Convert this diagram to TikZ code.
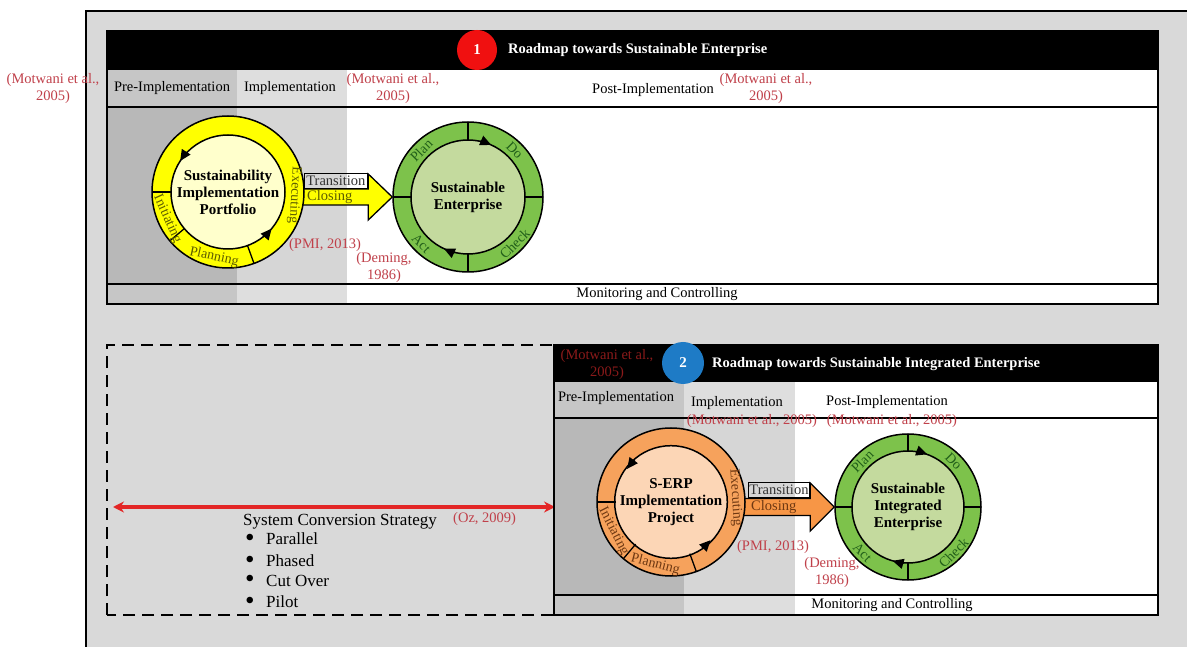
\documentclass[tikz,border=0pt]{standalone}
\usepackage{fontspec}
\setmainfont{Liberation Serif}
\usetikzlibrary{arrows.meta}

\definecolor{bggray}{HTML}{D9D9D9}
\definecolor{darkmain}{HTML}{B8B8B8}
\definecolor{darkrow}{HTML}{C6C6C6}
\definecolor{lightmain}{HTML}{D6D6D6}
\definecolor{lightrow}{HTML}{DEDEDE}
\definecolor{citered}{HTML}{C0404A}
\definecolor{citedark}{HTML}{8B1A1A}
\definecolor{yellowring}{HTML}{FFFF00}
\definecolor{yellowcore}{HTML}{FFFFCC}
\definecolor{yellowtext}{HTML}{5E5E00}
\definecolor{greenring}{HTML}{7DC24B}
\definecolor{greencore}{HTML}{C4DA9E}
\definecolor{greentext}{HTML}{22601A}
\definecolor{orangering}{HTML}{F6A25C}
\definecolor{orangecore}{HTML}{FCD6B6}
\definecolor{orangetext}{HTML}{6E3812}
\definecolor{orangearrow}{HTML}{F79646}
\definecolor{badgered}{HTML}{F01010}
\definecolor{badgeblue}{HTML}{1E7BC6}
\definecolor{convred}{HTML}{E32626}

\begin{document}
\begin{tikzpicture}[x=1pt, y=1pt,
    font=\fontsize{14.5pt}{17pt}\selectfont,
    cite/.style={text=citered, align=center, inner sep=0pt},
    phase/.style={inner sep=0pt},
    ring/.style={circle, draw, line width=1.5pt, inner sep=0pt},
    core/.style={circle, draw, line width=1.5pt, inner sep=0pt, align=center,
        font=\fontsize{15pt}{17pt}\selectfont\bfseries},
    ringlabel/.style={text=#1, inner sep=0pt, font=\fontsize{14pt}{16pt}\selectfont},
    divider/.style={line width=1.3pt},
    ringarrow/.style={line width=1.5pt, -{Triangle[length=11pt, width=10pt]}},
    rowline/.style={line width=1.6pt},
    badge/.style={circle, minimum size=#1, inner sep=0pt, text=white,
        font=\fontsize{15pt}{17pt}\selectfont\bfseries},
    headline/.style={text=white, anchor=west, inner sep=0pt,
        font=\fontsize{14.5pt}{17pt}\selectfont\bfseries},
    transbox/.style={draw, line width=0.8pt, anchor=south west, minimum height=15pt,
        inner sep=1pt, text=black!80},
    blockarrow/.style={draw, line width=1.3pt, line join=miter},
    convarrow/.style={convred, line width=3.5pt,
        {Stealth[length=11pt, width=11pt]}-{Stealth[length=11pt, width=11pt]}},
    dashbox/.style={line width=1.3pt, dash pattern=on 12pt off 7pt},
    bullet/.style={anchor=west, inner sep=0pt, text height=12pt, text depth=4pt,
        font=\fontsize{17pt}{20pt}\selectfont}
]
\useasboundingbox (0,0) rectangle (1187,646);
\newcommand{\dotmark}{\makebox[22pt][l]{\hspace{1pt}\raisebox{-2pt}{\scalebox{1.6}{\textbullet}}}}

% outer frame
\fill[bggray] (86,-5) rectangle (1192,635);
\draw[line width=1.3pt] (86,-5) -- (86,635) -- (1192,635);

% roadmap 1 panel
\fill[white] (107,342) rectangle (1158,615);
\fill[darkmain] (107,362) rectangle (237,539);
\fill[darkrow] (107,539) rectangle (237,576);
\fill[darkrow] (107,342) rectangle (237,362);
\fill[lightmain] (237,362) rectangle (347,539);
\fill[lightrow] (237,539) rectangle (347,576);
\fill[lightrow] (237,342) rectangle (347,362);
\fill[black] (107,576) rectangle (1158,615);
\draw[rowline] (107,342) rectangle (1158,615);
\draw[rowline] (107,539) -- (1158,539);
\draw[rowline] (107,362) -- (1158,362);

\node (badge1) [badge=40pt, fill=badgered] at (477,596) {1};
\node (title1) [headline] at (508,596) {Roadmap towards Sustainable Enterprise};

\node (cite0) [cite] at (53,557.5) {(Motwani et al.,\\2005)};
\node (pre1) [phase] at (172,558) {Pre-Implementation};
\node (impl1) [phase] at (290,558) {Implementation};
\node (cite1) [cite] at (393,557.5) {(Motwani et al.,\\2005)};
\node (post1) [phase] at (653,556) {Post-Implementation};
\node (cite2) [cite] at (766,557.5) {(Motwani et al.,\\2005)};
\node (mon1) [phase] at (657,352) {Monitoring and Controlling};

% sustainable enterprise cycle
\node (se) [ring, fill=greenring, minimum size=150pt] at (468,449) {};
\draw[blockarrow, fill=yellowring] (se.west) -- ++(-24,23) -- ++(0,-15) -- ++(-75,0)
    -- ++(0,-16) -- ++(75,0) -- ++(0,-15) -- cycle;
\node (secore) [core, fill=greencore, minimum size=114pt] at (se) {Sustainable\\Enterprise};
\foreach \a in {0,90,180,270}
    \draw[divider] ([shift={(\a:57)}]se.center) -- ([shift={(\a:75)}]se.center);
\node (plan) [ringlabel=greentext, rotate=45] at ([shift={(135:66)}]se.center) {Plan};
\node (do) [ringlabel=greentext, rotate=-45] at ([shift={(45:66)}]se.center) {Do};
\node (check) [ringlabel=greentext, rotate=45] at ([shift={(-45:66)}]se.center) {Check};
\node (act) [ringlabel=greentext, rotate=-45] at ([shift={(225:66)}]se.center) {Act};
\draw[ringarrow] ([shift={(78:57)}]se.center) arc[start angle=78, end angle=66, radius=57];
\draw[ringarrow] ([shift={(257:57)}]se.center) arc[start angle=257, end angle=245, radius=57];

% portfolio cycle
\node (sip) [ring, fill=yellowring, minimum size=152pt] at (228,454) {};
\node (sipcore) [core, fill=yellowcore, minimum size=114pt] at (sip)
    {Sustainability\\Implementation\\Portfolio};
\foreach \a in {180,220,290}
    \draw[divider] ([shift={(\a:57)}]sip.center) -- ([shift={(\a:76)}]sip.center);
\node (init1) [ringlabel=yellowtext, rotate=294] at ([shift={(204:66.5)}]sip.center) {Initiating};
\node (plan1) [ringlabel=yellowtext, rotate=348] at ([shift={(258:66.5)}]sip.center) {Planning};
\node (exec1) [ringlabel=yellowtext, rotate=-93] at ([shift={(-3:66.5)}]sip.center) {Executing};
\draw[ringarrow] ([shift={(135:57)}]sip.center) arc[start angle=135, end angle=147, radius=57];
\draw[ringarrow] ([shift={(-52:57)}]sip.center) arc[start angle=-52, end angle=-40, radius=57];

\node (trans1) [transbox, minimum width=63pt] at (304,457) {Transition};
\node (close1) [anchor=west, inner sep=0pt, text=yellowtext] at (307,449) {Closing};
\node (pmi1) [cite] at (325,401) {(PMI, 2013)};
\node (deming1) [cite] at (384,378.5) {(Deming,\\1986)};

% conversion strategy
\draw[dashbox] (107,31) rectangle (554,301);
\coordinate (convL) at (113,139);
\coordinate (convR) at (555,139);
\draw[convarrow] (convL) -- (convR);
\node (strategy) [bullet] at (243,125) {System Conversion Strategy};
\node (oz) [cite, anchor=west] at (453,127) {(Oz, 2009)};
\node (parallel) [bullet] at (244,105) {\dotmark Parallel};
\node (phased) [bullet] at (244,84) {\dotmark Phased};
\node (cutover) [bullet] at (244,64) {\dotmark Cut Over};
\node (pilot) [bullet] at (244,43) {\dotmark Pilot};

% roadmap 2 panel
\fill[white] (554,31) rectangle (1158,301);
\fill[darkmain] (554,51) rectangle (684,228);
\fill[darkrow] (554,228) rectangle (684,264);
\fill[darkrow] (554,31) rectangle (684,51);
\fill[lightmain] (684,51) rectangle (795,228);
\fill[lightrow] (684,228) rectangle (795,264);
\fill[lightrow] (684,31) rectangle (795,51);
\fill[black] (554,264) rectangle (1158,301);
\draw[rowline] (554,31) rectangle (1158,301);
\draw[rowline] (554,228) -- (1158,228);
\draw[rowline] (554,51) -- (1158,51);

\node (cite3) [cite, text=citedark] at (607,281) {(Motwani et al.,\\2005)};
\node (badge2) [badge=42pt, fill=badgeblue] at (683,283) {2};
\node (title2) [headline] at (712,282) {Roadmap towards Sustainable Integrated Enterprise};
\node (pre2) [phase] at (616,248) {Pre-Implementation};
\node (impl2) [phase] at (737,243) {Implementation};
\node (post2) [phase] at (887,244) {Post-Implementation};
\node (cite4) [cite] at (752,225) {(Motwani et al., 2005)};
\node (cite5) [cite] at (892,225) {(Motwani et al., 2005)};
\node (mon2) [phase] at (892,41) {Monitoring and Controlling};

% sustainable integrated enterprise cycle
\node (sie) [ring, fill=greenring, minimum size=146pt] at (908,139) {};
\draw[blockarrow, fill=orangearrow] (sie.west) -- ++(-24,24) -- ++(0,-15.5) -- ++(-75,0)
    -- ++(0,-17) -- ++(75,0) -- ++(0,-15.5) -- cycle;
\node (siecore) [core, fill=greencore, minimum size=112pt] at (sie)
    {Sustainable\\Integrated\\Enterprise};
\foreach \a in {0,90,180,270}
    \draw[divider] ([shift={(\a:56)}]sie.center) -- ([shift={(\a:73)}]sie.center);
\node (plan2) [ringlabel=greentext, rotate=45] at ([shift={(135:64.5)}]sie.center) {Plan};
\node (do2) [ringlabel=greentext, rotate=-45] at ([shift={(45:64.5)}]sie.center) {Do};
\node (check2) [ringlabel=greentext, rotate=45] at ([shift={(-45:64.5)}]sie.center) {Check};
\node (act2) [ringlabel=greentext, rotate=-45] at ([shift={(225:64.5)}]sie.center) {Act};
\draw[ringarrow] ([shift={(82:56)}]sie.center) arc[start angle=82, end angle=70, radius=56];
\draw[ringarrow] ([shift={(266:56)}]sie.center) arc[start angle=266, end angle=254, radius=56];

% s-erp project cycle
\node (serp) [ring, fill=orangering, minimum size=148pt] at (671,144) {};
\node (serpcore) [core, fill=orangecore, minimum size=110pt] at (serp)
    {S-ERP\\Implementation\\Project};
\foreach \a in {180,230,290}
    \draw[divider] ([shift={(\a:55)}]serp.center) -- ([shift={(\a:74)}]serp.center);
\node (init2) [ringlabel=orangetext, rotate=297] at ([shift={(207:64.5)}]serp.center) {Initiating};
\node (plan3) [ringlabel=orangetext, rotate=346] at ([shift={(256:64.5)}]serp.center) {Planning};
\node (exec2) [ringlabel=orangetext, rotate=-86] at ([shift={(4:64.5)}]serp.center) {Executing};
\draw[ringarrow] ([shift={(131:55)}]serp.center) arc[start angle=131, end angle=143, radius=55];
\draw[ringarrow] ([shift={(-56:55)}]serp.center) arc[start angle=-56, end angle=-44, radius=55];

\node (trans2) [transbox, minimum width=61pt] at (748,148) {Transition};
\node (close2) [anchor=west, inner sep=0pt, text=orangetext] at (751,139) {Closing};
\node (pmi2) [cite] at (773,99) {(PMI, 2013)};
\node (deming2) [cite] at (832,73) {(Deming,\\1986)};
\end{tikzpicture}
\end{document}
